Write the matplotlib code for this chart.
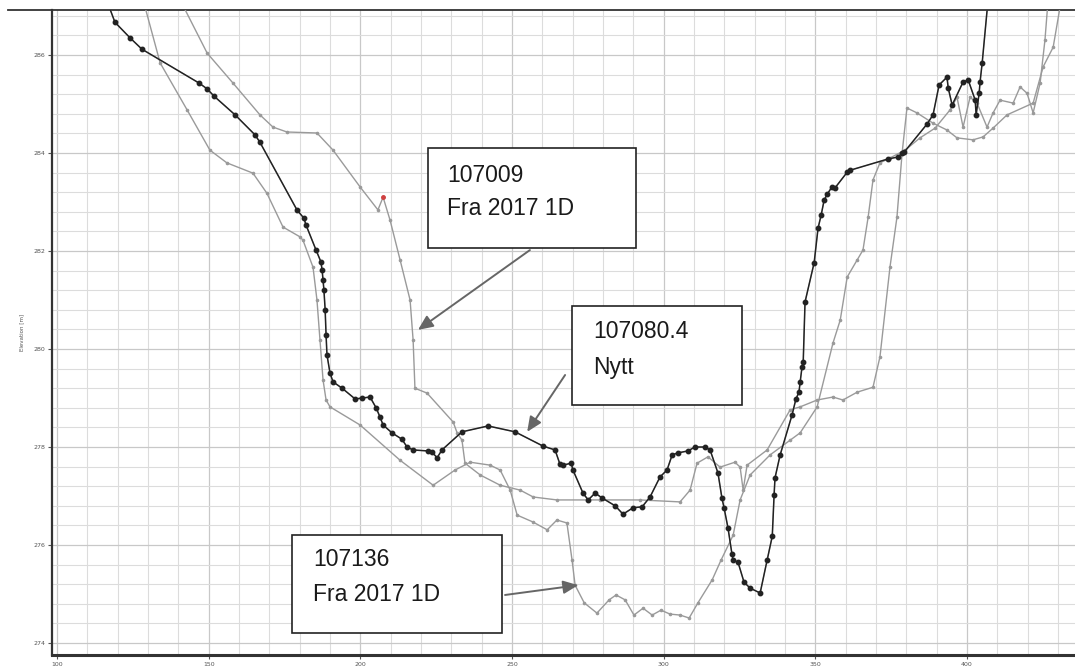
import matplotlib
matplotlib.use("Agg")
import numpy as np
import matplotlib.pyplot as plt
from matplotlib.patches import Rectangle
from matplotlib.lines import Line2D

# 107080.4 "Nytt" - new section, black with survey points
nytt_x = [116.5, 119.1, 124.1, 128.0, 146.8, 149.5, 151.8, 158.7, 165.3, 166.9,
          179.1, 181.4, 182.1, 185.4, 187.0, 187.4, 187.7, 188.0, 188.4, 188.7,
          189.0, 190.0, 191.0, 194.0, 198.3, 200.6, 203.2, 205.2, 206.5, 207.5,
          210.4, 213.7, 215.4, 217.4, 222.3, 223.6, 225.3, 226.9, 233.5, 242.1,
          251.0, 260.2, 264.2, 265.8, 266.8, 269.5, 270.1, 273.4, 275.1, 277.4,
          279.7, 284.0, 286.6, 289.9, 292.9, 295.5, 298.8, 301.1, 302.8, 304.7,
          308.0, 310.3, 313.6, 315.3, 317.9, 319.2, 319.9, 321.2, 322.5, 322.9,
          324.5, 326.5, 328.5, 331.8, 334.1, 335.8, 336.4, 336.7, 338.4, 342.3,
          343.6, 344.6, 345.0, 345.6, 346.0, 346.6, 349.6, 350.9, 351.9, 352.9,
          353.9, 355.5, 356.5, 360.5, 361.5, 374.0, 377.3, 378.6, 379.3, 386.8,
          388.8, 390.8, 393.4, 393.8, 395.1, 398.7, 400.4, 402.7, 403.0, 404.0,
          404.3, 405.0, 406.9]
nytt_z = [287.1, 286.67, 286.35, 286.12, 285.43, 285.31, 285.16, 284.78, 284.37, 284.22,
          282.84, 282.67, 282.53, 282.02, 281.78, 281.61, 281.41, 281.20, 280.80, 280.29,
          279.88, 279.51, 279.33, 279.20, 278.98, 279.00, 279.02, 278.80, 278.61, 278.45,
          278.29, 278.16, 278.00, 277.94, 277.92, 277.90, 277.78, 277.94, 278.31, 278.43,
          278.31, 278.02, 277.94, 277.65, 277.63, 277.67, 277.53, 277.06, 276.92, 277.06,
          276.96, 276.80, 276.63, 276.76, 276.78, 276.98, 277.39, 277.53, 277.84, 277.88,
          277.92, 278.00, 278.00, 277.94, 277.47, 276.96, 276.76, 276.35, 275.82, 275.69,
          275.65, 275.24, 275.12, 275.02, 275.69, 276.18, 277.02, 277.37, 277.84, 278.65,
          278.98, 279.12, 279.33, 279.63, 279.73, 280.96, 281.76, 282.47, 282.73, 283.04,
          283.16, 283.31, 283.29, 283.61, 283.65, 283.88, 283.92, 284.00, 284.02, 284.59,
          284.78, 285.39, 285.55, 285.33, 284.98, 285.45, 285.49, 285.08, 284.78, 285.22,
          285.45, 285.84, 287.1]

# 107136 "Fra 2017 1D"
s136_x = [128.5, 134.0, 142.9, 150.4, 156.0, 164.6, 169.2, 174.5, 180.1, 181.1,
          184.4, 185.7, 186.7, 187.7, 188.7, 190.0, 199.9, 213.1, 224.0, 231.2,
          236.2, 242.8, 246.1, 249.4, 251.7, 256.9, 261.6, 264.8, 268.1, 269.8,
          270.8, 273.8, 278.0, 282.0, 284.3, 287.3, 290.2, 293.2, 296.2, 299.1,
          302.1, 305.4, 308.4, 311.3, 316.0, 318.9, 322.9, 325.2, 328.5, 335.1,
          341.7, 345.0, 350.6, 355.8, 358.2, 360.5, 363.8, 365.7, 367.4, 369.0,
          371.3, 374.6, 379.6, 384.5, 389.5, 394.4, 396.7, 398.7, 401.0, 403.3,
          406.6, 408.6, 410.9, 415.2, 417.5, 419.8, 421.8, 424.1, 425.7, 426.7]
s136_z = [287.1, 285.84, 284.88, 284.06, 283.80, 283.59, 283.18, 282.49, 282.29, 282.22,
          281.67, 281.00, 280.18, 279.37, 278.96, 278.82, 278.45, 277.73, 277.22, 277.53,
          277.69, 277.63, 277.53, 277.12, 276.61, 276.47, 276.31, 276.51, 276.45, 275.69,
          275.18, 274.82, 274.61, 274.88, 274.98, 274.88, 274.57, 274.71, 274.57, 274.67,
          274.59, 274.57, 274.51, 274.82, 275.29, 275.69, 276.20, 276.92, 277.43, 277.84,
          278.14, 278.29, 278.82, 280.12, 280.59, 281.47, 281.82, 282.02, 282.69, 283.45,
          283.80, 283.90, 284.06, 284.31, 284.51, 284.88, 285.14, 284.53, 285.14, 285.02,
          284.53, 284.82, 285.08, 285.02, 285.35, 285.22, 284.82, 285.43, 286.31, 287.1]

# 107009 "Fra 2017 1D"
s009_x = [140.8, 149.5, 158.0, 166.9, 171.2, 175.8, 185.7, 191.0, 199.9, 205.8,
          207.5, 209.8, 213.1, 216.4, 217.4, 218.0, 222.0, 230.6, 231.9, 233.5,
          234.5, 239.5, 246.1, 252.7, 257.0, 264.8, 279.0, 292.2, 305.4, 308.7,
          311.0, 314.6, 318.6, 323.5, 325.2, 326.2, 327.5, 334.1, 341.7, 345.0,
          350.6, 355.8, 359.1, 363.8, 369.0, 371.3, 374.6, 376.9, 378.6, 380.2,
          383.5, 388.8, 393.4, 396.7, 402.0, 405.3, 408.6, 413.2, 421.8, 425.1,
          428.4, 431.0]
s009_z = [287.1, 286.04, 285.43, 284.78, 284.53, 284.43, 284.41, 284.06, 283.31, 282.84,
          283.10, 282.63, 281.82, 281.00, 280.18, 279.20, 279.10, 278.51, 278.29, 278.14,
          277.67, 277.43, 277.22, 277.12, 276.98, 276.92, 276.92, 276.92, 276.88, 277.12,
          277.67, 277.80, 277.59, 277.69, 277.59, 277.12, 277.63, 277.94, 278.76, 278.82,
          278.96, 279.02, 278.96, 279.12, 279.22, 279.84, 281.67, 282.69, 284.00, 284.92,
          284.82, 284.61, 284.47, 284.31, 284.27, 284.33, 284.51, 284.78, 285.02, 285.76,
          286.16, 287.1]
s009_red = 10  # point marked in red

x_ticks = [100, 150, 200, 250, 300, 350, 400]
y_ticks = [274, 276, 278, 280, 282, 284, 286]

fig = plt.figure(figsize=(10.75, 6.7), dpi=100)
ax = fig.add_axes([52 / 1075, 15 / 670, 1023 / 1075, 645 / 670])
ax.set_xlim(98.35, 435.6)
ax.set_ylim(273.755, 286.92)

# grid
ax.set_xticks(np.arange(100, 440, 10), minor=True)
ax.set_yticks(np.round(np.arange(274, 287.0, 0.4), 1), minor=True)
ax.grid(which="minor", color="#dcdcdc", lw=0.8)
ax.grid(which="major", color="#c8c8c8", lw=0.9)
ax.set_axisbelow(True)

ax.set_xticks(x_ticks)
ax.set_yticks(y_ticks)
ax.tick_params(which="major", length=3, width=0.8, color="#555555", labelsize=4.5,
               labelcolor="#555555", pad=2)
ax.tick_params(which="minor", length=0)

for side in ["right"]:
    ax.spines[side].set_visible(False)
ax.spines["left"].set_linewidth(1.6)
ax.spines["bottom"].set_linewidth(2.2)
ax.spines["top"].set_linewidth(1.3)
for side in ["left", "bottom", "top"]:
    ax.spines[side].set_color("#333333")

ax.set_ylabel("Elevation [m]", fontsize=4, color="#555555", labelpad=6)

gray = "#9a9a9a"
ax.plot(s009_x, s009_z, color=gray, lw=1.0, marker="o", ms=1.6, mfc=gray, mec=gray, zorder=3)
ax.plot(s136_x, s136_z, color=gray, lw=1.0, marker="o", ms=1.6, mfc=gray, mec=gray, zorder=3)
ax.plot(s009_x[s009_red], s009_z[s009_red], "o", color="#d04040", ms=2.5, zorder=4)
ax.plot(nytt_x, nytt_z, color="#bbbbbb", lw=0.8, zorder=4)
ax.plot(nytt_x, nytt_z, color="#222222", lw=1.1, marker="o", ms=3.2, zorder=5)

# labels with boxes and arrows
labels = [
    ("107009\nFra 2017 1D", (222.3, 282.06, 68.6, 2.04), (228.6, 283.55, 282.86),
     (255.9, 282.02), (219.0, 280.39)),
    ("107080.4\nNytt", (269.8, 278.86, 56.0, 2.02), (276.7, 280.35, 279.63),
     (267.5, 279.47), (255.0, 278.31)),
    ("107136\nFra 2017 1D", (177.5, 274.20, 69.2, 2.00), (184.4, 275.71, 275.00),
     (247.7, 274.98), (271.8, 275.18)),
]
for text, box, tpos, start, tip in labels:
    ax.add_patch(Rectangle((box[0], box[1]), box[2], box[3], facecolor="white",
                           edgecolor="#222222", lw=1.2, zorder=6))
    line1, line2 = text.split("\n")
    ax.text(tpos[0], tpos[1], line1, fontsize=16.5, family="Liberation Sans",
            color="#1a1a1a", va="center", ha="left", zorder=7)
    ax.text(tpos[0], tpos[2], line2, fontsize=16.5, family="Liberation Sans",
            color="#1a1a1a", va="center", ha="left", zorder=7)
    ax.annotate("", xy=tip, xytext=start,
                arrowprops=dict(arrowstyle="-|>,head_length=0.9,head_width=0.4",
                                color="#666666", lw=1.4, shrinkA=0, shrinkB=0),
                zorder=7)

# top border runs a bit past the plot frame on the left
fig.add_artist(Line2D([8 / 1075, 52 / 1075], [660 / 670, 660 / 670],
                      color="#333333", lw=1.3))

fig.savefig("out.png", dpi=100)
